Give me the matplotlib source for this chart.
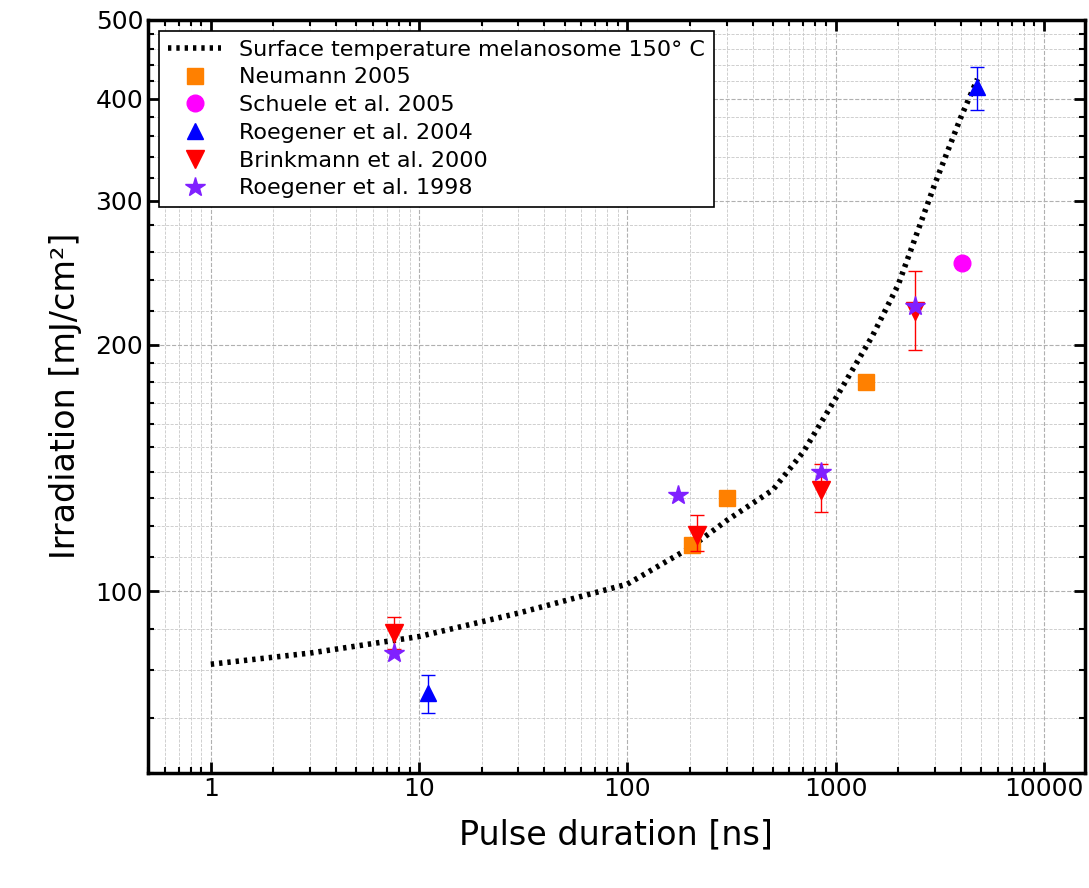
import matplotlib.pyplot as plt
from matplotlib.ticker import FixedLocator, NullFormatter, LogLocator
import numpy as np

curve_x = [1, 3, 10, 30, 100, 200, 300, 500, 700, 1000, 1500, 2000, 3000, 4000, 4800]
curve_y = [81.4, 84, 88, 94, 102, 113, 122, 133, 148, 172, 205, 237, 315, 380, 423]

neu_x = [205, 300, 1400]
neu_y = [114, 130, 180]
sch_x = [4030]
sch_y = [252]
r04_x = [11, 4800]
r04_y = [75, 414]
r04_err = [[4, 26], [4, 23]]
bri_x = [7.6, 215, 850, 2400]
bri_y = [89, 117, 133, 220]
bri_err = [[4, 5, 8, 23], [4, 7, 10, 26]]
r98_x = [7.6, 175, 850, 2400]
r98_y = [84, 131, 140, 223]

fig = plt.figure(figsize=(10.89, 8.88), dpi=100)
ax = fig.add_axes([0.136, 0.13, 0.86, 0.848])

ax.plot(curve_x, curve_y, color='black', linestyle=(0, (0.6, 0.9)), linewidth=4,
        dash_capstyle='butt', label='Surface temperature melanosome 150° C')
ax.plot(neu_x, neu_y, 's', color='#ff8000', markersize=11, label='Neumann 2005')
ax.plot(sch_x, sch_y, 'o', color='#ff00ff', markersize=12, label='Schuele et al. 2005')
ax.errorbar(r04_x, r04_y, yerr=r04_err, fmt='none', ecolor='#0000ff', capsize=5, elinewidth=1)
ax.plot(r04_x, r04_y, '^', color='#0000ff', markersize=12, label='Roegener et al. 2004')
ax.errorbar(bri_x, bri_y, yerr=bri_err, fmt='none', ecolor='#ff0000', capsize=5, elinewidth=1)
ax.plot(bri_x, bri_y, 'v', color='#ff0000', markersize=13, label='Brinkmann et al. 2000')
ax.plot(r98_x, r98_y, '*', color='#8020ff', markersize=15, label='Roegener et al. 1998')

ax.set_xscale('log')
ax.set_yscale('log')
ax.set_xlim(0.5, 15700)
ax.set_ylim(60, 500)
ax.set_xticks([1, 10, 100, 1000, 10000])
ax.set_xticklabels(['1', '10', '100', '1000', '10000'])
ax.xaxis.set_minor_locator(LogLocator(base=10, subs=np.arange(2, 10), numticks=20))
ax.xaxis.set_minor_formatter(NullFormatter())
ax.yaxis.set_major_locator(FixedLocator([100, 200, 300, 400, 500]))
ax.set_yticklabels(['100', '200', '300', '400', '500'])
ax.yaxis.set_minor_locator(FixedLocator([60, 70, 80, 90, 110, 120, 130, 140, 150, 160, 170, 180, 190,
                                         220, 240, 260, 280, 320, 340, 360, 380, 420, 440, 460, 480]))
ax.yaxis.set_minor_formatter(NullFormatter())
ax.grid(True, which='major', color='#b0b0b0', linestyle='--', linewidth=0.8)
ax.grid(True, which='minor', color='#c8c8c8', linestyle='--', linewidth=0.6)
ax.tick_params(which='both', direction='in', top=True, right=True, labelsize=18)
ax.tick_params(which='major', length=8, width=2)
ax.tick_params(which='minor', length=4, width=1.5)
for s in ax.spines.values():
    s.set_linewidth(2.5)

ax.set_xlabel('Pulse duration [ns]', fontsize=24, labelpad=12)
ax.set_ylabel('Irradiation [mJ/cm²]', fontsize=24, labelpad=10)

leg = ax.legend(loc='upper left', fontsize=16, frameon=True, fancybox=False, framealpha=1,
                edgecolor='black', handlelength=2.4, borderpad=0.4, labelspacing=0.35)
leg.get_frame().set_linewidth(1.2)

fig.savefig('out.png', dpi=100)
